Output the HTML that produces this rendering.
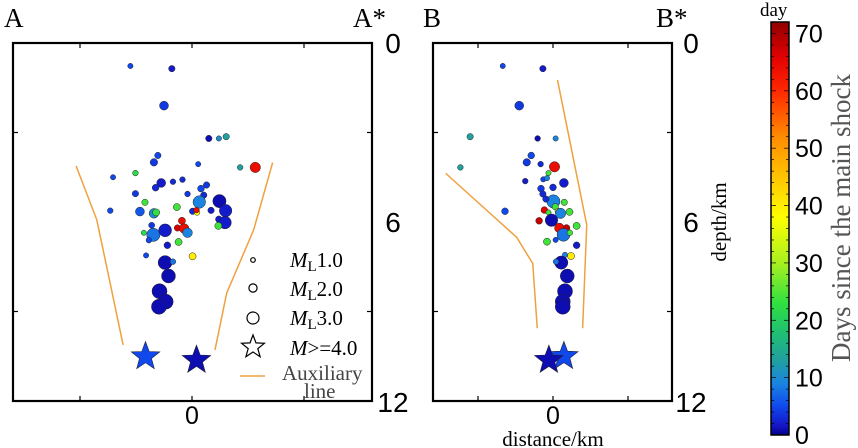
<!DOCTYPE html>
<html><head><meta charset="utf-8"><style>
html,body{margin:0;padding:0;background:#fff;}
svg{display:block;font-family:"Liberation Serif",serif;}
.sans{font-family:"Liberation Sans",sans-serif;}
</style></head><body>
<svg id="chart" width="858" height="448" viewBox="0 0 858 448">
<defs>
<linearGradient id="jet" x1="0" y1="1" x2="0" y2="0"></linearGradient>
</defs>
<g id="layer"></g>
<g>
<text x="4" y="27" font-size="27">A</text>
<text x="353" y="27" font-size="27">A*</text>
<text x="423" y="27" font-size="27">B</text>
<text x="656" y="27" font-size="27">B*</text>
<text x="553" y="446" font-size="21" text-anchor="middle">distance/km</text>
<text transform="translate(726,222) rotate(-90)" font-size="21" text-anchor="middle">depth/km</text>
<text x="760" y="16" font-size="19">day</text>
<text transform="translate(850,218) rotate(-90)" font-size="27" fill="#555" text-anchor="middle">Days since the main shock</text>
</g>
<g font-size="21">
<circle cx="253" cy="260" r="2.3" fill="none" stroke="#000" stroke-width="1.2"/>
<text x="290" y="267"><tspan font-style="italic">M</tspan><tspan font-size="15" dy="4">L</tspan><tspan dy="-4">1.0</tspan></text>
<circle cx="253" cy="288" r="4.1" fill="none" stroke="#000" stroke-width="1.2"/>
<text x="290" y="296"><tspan font-style="italic">M</tspan><tspan font-size="15" dy="4">L</tspan><tspan dy="-4">2.0</tspan></text>
<circle cx="253" cy="318" r="6" fill="none" stroke="#000" stroke-width="1.2"/>
<text x="290" y="325"><tspan font-style="italic">M</tspan><tspan font-size="15" dy="4">L</tspan><tspan dy="-4">3.0</tspan></text>
<polygon id="legstar" fill="none" stroke="#000" stroke-width="1.2"/>
<text x="290" y="355"><tspan font-style="italic">M</tspan>&gt;=4.0</text>
<line x1="240" y1="376" x2="265" y2="376" stroke="#f0a040" stroke-width="1.5"/>
<text x="282" y="380" fill="#444">Auxiliary</text>
<text x="304" y="398" fill="#444">line</text>
</g>
</svg>
<script>
// Panel A events
const aX=[-1.1,-0.36,-0.5,0.3,0.48,0.61,-0.61,-0.68,0.11,0.86,1.13,-1.41,-1.01,-0.55,-0.65,-0.34,-0.17,0.26,0.16,-0.08,0.21,-1.01,-0.84,-1.46,-0.93,-0.68,-0.64,-0.27,0.13,0.01,0.09,0.08,0.34,0.49,0.6,0.48,0.59,0.47,-0.18,-0.26,-0.14,-0.08,-0.72,-0.86,-0.69,-0.48,-0.77,-0.24,-0.44,-0.82,0.01,-0.48,-0.34,-0.42,-0.58,-0.47,-0.59];
const aDepth=[0.77,0.86,2.1,3.2,3.2,3.14,3.77,4.0,4.06,4.17,4.17,4.5,4.36,4.69,4.85,4.65,4.58,4.76,4.88,5.06,5.1,5.05,5.34,5.62,5.65,5.71,5.68,5.5,5.33,5.64,5.68,5.6,5.61,5.3,5.62,5.91,6.02,6.13,5.96,6.2,6.22,6.36,6.11,6.36,6.43,6.28,6.61,6.67,6.78,7.12,7.15,7.36,7.33,7.81,8.32,8.67,8.84];
const aMag=[1.2,1.5,2.2,1.5,1.2,1.5,1.5,1.8,1.2,1.3,2.6,1.2,1.3,2.2,1.6,1.3,1.3,1.5,1.6,1.3,1.5,1.5,1.5,1.3,2.2,2.4,1.7,1.7,3.2,1.5,1.3,1.3,1.5,3.4,3.2,1.6,3.2,1.7,1.7,1.5,2.4,2.4,1.4,1.2,3.4,3.3,1.3,1.7,1.6,1.2,1.7,3.6,1.3,3.6,3.9,3.9,3.9];
const aDay=[5,2,4,1,10,13,5,4,5,13,64,5,22,2,3,3,3,4,5,4,3,4,24,5,6,10,23,24,9,3,38,64,2,1,2,2,2,24,64,66,64,9,4,22,8,2,5,24,2,5,40,1,8,1,1,1,1];
const aStarX=[-0.83,0.08];
const aStarDepth=[10.51,10.63];
const aStarDay=[5,1];
const aAuxLeftX=[-2.07,-1.70,-1.50,-1.23];
const aAuxLeftDepth=[4.12,5.93,7.71,10.12];
const aAuxRightX=[1.44,1.10,0.62,0.41];
const aAuxRightDepth=[4.01,6.27,8.38,10.29];
// Panel B events
const bX=[-1.34,-0.27,-0.9,-2.21,-0.41,0.07,-0.58,-0.7,-0.33,-2.47,0.04,-0.12,-0.74,-0.26,-0.16,0.29,0,-0.32,-0.27,0.01,-0.19,0.3,-1.28,-0.23,-0.12,0.06,0.13,0.2,0.44,-0.37,-0.04,0.17,0.36,0.63,0.28,0.45,0.07,-0.16,0.63,0.48,0.32,0.22,0.08,0.38,0.32,0.26,0.26];
const bDepth=[0.77,0.86,2.1,3.14,3.2,3.2,3.77,4.0,4.06,4.17,4.15,4.36,4.63,4.57,4.53,4.69,4.84,4.88,5.06,5.31,5.23,5.34,5.64,5.6,5.68,5.49,5.64,5.71,5.66,5.96,5.94,6.2,6.2,6.13,6.43,6.36,6.6,6.66,6.78,7.14,7.1,7.36,7.33,7.81,8.32,8.67,8.84];
const bMag=[1.2,1.5,2.2,1.5,1.3,1.2,1.6,1.8,1.3,1.3,2.6,1.2,1.3,1.2,1.2,2.2,1.6,1.6,1.5,3.4,1.5,1.5,1.6,1.6,1.2,1.5,1.3,2.6,1.7,1.6,3.2,2.4,1.6,1.7,3.3,1.3,1.2,1.7,1.6,1.7,1.2,3.4,1.3,3.6,3.9,3.9,3.9];
const bDay=[5,2,4,13,1,9,5,4,3,13,64,24,2,5,9,2,3,4,3,9,3,24,5,66,24,24,38,9,24,68,1,64,68,24,8,24,5,24,2,40,9,1,8,1,1,1,1];
const bStarX=[0.29,-0.11];
const bStarDepth=[10.5,10.63];
const bStarDay=[5,1];
const bAuxLeftX=[-2.86,-0.97,-0.54,-0.42];
const bAuxLeftDepth=[4.37,6.51,7.39,9.56];
const bAuxRightX=[0.12,0.9,0.79];
const bAuxRightDepth=[1.24,6.1,9.56];
const axisDepthTicks=["0","6","12"];
const colorTicks=[0,10,20,30,40,50,60,70];
const dayMax=72;
const cmapDays=[0,1.5,5,9,13,18,23,30,38,45,52,60,66,72];
const cmapColors=["#00008a","#1414c4","#1048ec","#1a84e0","#20a0a0","#20c070","#30e040","#a8f020","#ffff00","#ffc400","#ff8c00","#ff2800","#e00000","#900000"];

const NS="http://www.w3.org/2000/svg";
const layer=document.getElementById('layer');
function mk(tag,attrs,parent){const e=document.createElementNS(NS,tag);for(const k in attrs)e.setAttribute(k,attrs[k]);(parent||layer).appendChild(e);return e;}
function hex(c){return [1,3,5].map(i=>parseInt(c.substr(i,2),16));}
function jet(v){v=Math.max(0,Math.min(dayMax,v));
 for(let i=0;i<cmapDays.length-1;i++){if(v<=cmapDays[i+1]){const t=(v-cmapDays[i])/(cmapDays[i+1]-cmapDays[i]);
  const a=hex(cmapColors[i]),b=hex(cmapColors[i+1]);return `rgb(${a.map((x,k)=>Math.round(x+(b[k]-x)*t)).join(',')})`;}}
 return cmapColors[cmapColors.length-1];}
const grad=document.getElementById('jet');
cmapDays.forEach((d,i)=>{mk('stop',{offset:d/dayMax,'stop-color':cmapColors[i]},grad);});
function radius(m){return 0.5+1.8*m;}
function starPts(cx,cy,R){const r=R*0.42;let p=[];for(let i=0;i<10;i++){const a=-Math.PI/2+i*Math.PI/5;const rr=i%2?r:R;p.push((cx+rr*Math.cos(a)).toFixed(1)+','+(cy+rr*Math.sin(a)).toFixed(1));}return p.join(' ');}
document.getElementById('legstar').setAttribute('points',starPts(253,347,12));

const yTop=43,yBot=401;
const yScale=d=>yTop+d/12*(yBot-yTop);

function panel(name,x0,x1,zx,kmPx,xs,ds,ms,days,sx,sd,sday,lx,ld,rx,rd,labelX){
 const g=mk('g',{});
 
 
 const xScale=v=>zx+v*kmPx;
 [[lx,ld,'aux-line-left'],[rx,rd,'aux-line-right']].forEach(([X,D,n])=>{
  const pl=mk('polyline',{points:X.map((v,i)=>xScale(v)+','+yScale(D[i])).join(' '),fill:'none',stroke:'#f0a040','stroke-width':1.5},g);
  
  
 });
 xs.forEach((v,i)=>{
  const c=mk('circle',{cx:xScale(v),cy:yScale(ds[i]),r:radius(ms[i]),fill:jet(days[i]),stroke:'#222','stroke-width':0.5},g);
  
  
 });
 sx.forEach((v,i)=>{
  const s=mk('polygon',{points:starPts(xScale(v),yScale(sd[i]),15),fill:jet(sday[i]),stroke:'#223','stroke-width':0.6},g);
  
  
 });
 const fr=mk('rect',{x:x0,y:yTop,width:x1-x0,height:yBot-yTop,fill:'none',stroke:'#000','stroke-width':2.2},g);
 
 
 [-2,0,2].forEach(t=>{const X=xScale(t);
  mk('line',{x1:X,y1:yBot,x2:X,y2:yBot-5,stroke:'#000','stroke-width':1.2},g);
  mk('line',{x1:X,y1:yTop,x2:X,y2:yTop+5,stroke:'#000','stroke-width':1.2},g);});
 [3,9].forEach(d=>{const Y=yScale(d);
  mk('line',{x1:x0,y1:Y,x2:x0+5,y2:Y,stroke:'#000','stroke-width':1.2},g);
  mk('line',{x1:x1,y1:Y,x2:x1-5,y2:Y,stroke:'#000','stroke-width':1.2},g);});
 const xl=mk('text',{x:zx,y:424,'font-size':25,'text-anchor':'middle',class:'sans'},g);
 xl.textContent='0';
 
 
 axisDepthTicks.forEach(t=>{const d=+t;
  const tl=mk('text',{x:labelX,y:yScale(d)+(d===0?10:d===12?11:10),'font-size':28,'text-anchor':'middle',class:'sans'},g);
  tl.textContent=t;
  
  
 });
}
panel('panel-a-section',13,372,192,56,aX,aDepth,aMag,aDay,aStarX,aStarDepth,aStarDay,aAuxLeftX,aAuxLeftDepth,aAuxRightX,aAuxRightDepth,393);
panel('panel-b-section',433,672,553,37.5,bX,bDepth,bMag,bDay,bStarX,bStarDepth,bStarDay,bAuxLeftX,bAuxLeftDepth,bAuxRightX,bAuxRightDepth,691);

const cbX=771,cbW=18,cbBot=435,cbTop=22;
const cScale=v=>cbBot-v/dayMax*(cbBot-cbTop);
const cb=mk('rect',{x:cbX,y:cbTop,width:cbW,height:cbBot-cbTop,fill:'url(#jet)',stroke:'#000','stroke-width':1.5});


for(let v=0;v<=dayMax;v+=2){const Y=cScale(v);const L=v%10===0?5:3;
 mk('line',{x1:cbX,y1:Y,x2:cbX+L,y2:Y,stroke:'#000','stroke-width':0.7});
 mk('line',{x1:cbX+cbW,y1:Y,x2:cbX+cbW-L,y2:Y,stroke:'#000','stroke-width':0.7});}
colorTicks.forEach(v=>{
 const t=mk('text',{x:795,y:cScale(v)+9,'font-size':25,class:'sans'});
 t.textContent=String(v);
 
 
});
</script>
</body></html>
